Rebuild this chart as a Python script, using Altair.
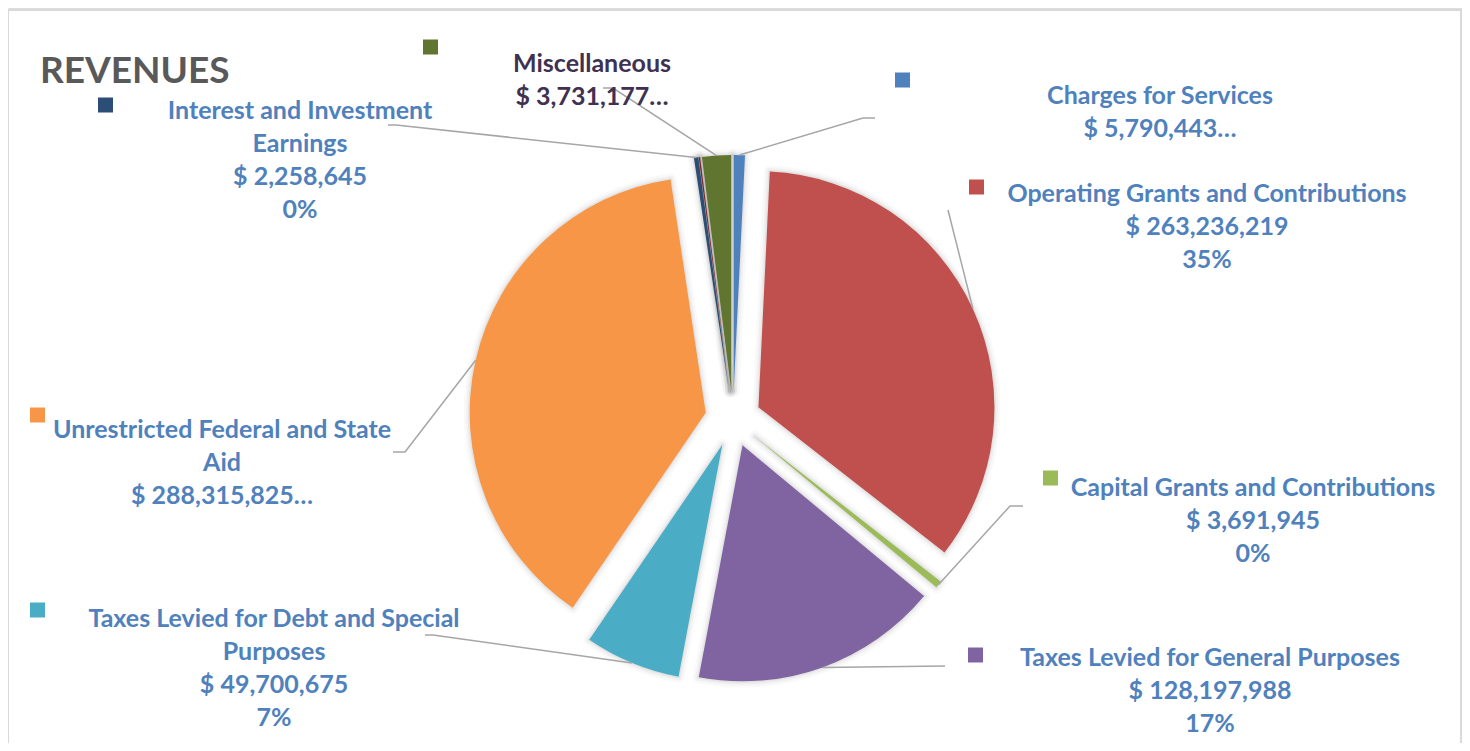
import altair as alt
import numpy as np
import pandas as pd

# ---------------- data ----------------
categories = [
    "Charges for Services",
    "Operating Grants and Contributions",
    "Capital Grants and Contributions",
    "Taxes Levied for General Purposes",
    "Taxes Levied for Debt and Special Purposes",
    "Unrestricted Federal and State Aid",
    "Interest and Investment Earnings",
    "Other",
    "Miscellaneous",
]
# slice sizes as they appear in the picture
values = [5790443, 263236219, 3691945, 128197988, 49700675, 288315825, 2258645, 750000, 15000000]
amount_text = ["$ 5,790,443…", "$ 263,236,219", "$ 3,691,945", "$ 128,197,988",
               "$ 49,700,675", "$ 288,315,825…", "$ 2,258,645", "", "$ 3,731,177…"]
percent_text = ["", "35%", "0%", "17%", "7%", "", "0%", "", ""]
name_lines = [
    ["Charges for Services"],
    ["Operating Grants and Contributions"],
    ["Capital Grants and Contributions"],
    ["Taxes Levied for General Purposes"],
    ["Taxes Levied for Debt and Special", "Purposes"],
    ["Unrestricted Federal and State", "Aid"],
    ["Interest and Investment", "Earnings"],
    [],
    ["Miscellaneous"],
]

# ---------------- styling / layout ----------------
slice_colors = ["#4F81BD", "#C0504D", "#9BBB59", "#8064A2", "#4BACC6",
                "#F79646", "#2C4D75", "#772C2A", "#5F7530"]
label_colors = ["#4F81BD"] * 8 + ["#403152"]
CX, CY, R, EXPLODE = 725, 411, 236, 28
FONT = "Lato"

# label anchor (center x, first baseline y) in chart pixels
label_pos = [(1152, 96), (1199, 194), (1245, 488), (1202, 658), (266, 619),
             (214, 430), (292, 111), None, (584, 64)]
square_pos = [(887, 72), (961, 179), (1035, 470), (960, 647), (22, 602),
              (22, 407), (90, 97), None, (415, 39)]
leader_pts = [  # (elbow, end) in chart pixels
    ((855, 110), (867, 110)),
    ((940, 202), (940, 202)),
    ((1002, 498), (1015, 498)),
    ((937, 658), (937, 658)),
    ((425, 627), (417, 627)),
    ((397, 444), (385, 444)),
    ((388, 117), (380, 117)),
    None,
    ((605, 80), (595, 80)),
]

# ---------------- pie table ----------------
pie_df = pd.DataFrame({
    "cat": categories,
    "value": values,
    "color": slice_colors,
    "order": list(range(len(categories))),
})

base = alt.Chart(pie_df).transform_joinaggregate(
    total="sum(value)"
).transform_window(
    cum="sum(value)", sort=[alt.SortField("order")], frame=[None, 0]
).transform_calculate(
    t1="2*PI*datum.cum/datum.total",
    t0="2*PI*(datum.cum-datum.value)/datum.total",
).transform_calculate(
    mid="(datum.t0+datum.t1)/2",
).transform_calculate(
    cx=f"{CX}+{EXPLODE}*sin(datum.mid)",
    cy=f"{CY}-{EXPLODE}*cos(datum.mid)",
)

enc = dict(
    x=alt.X("cx:Q", scale=None, axis=None),
    y=alt.Y("cy:Q", scale=None, axis=None),
    theta=alt.Theta("t0:Q", scale=None),
    theta2="t1:Q",
)

shadows = [
    base.mark_arc(radius=R, fill="#000000", fillOpacity=0.0, stroke="#000000",
                  strokeOpacity=op, strokeWidth=w, strokeJoin="round").encode(**enc)
    for w, op in [(12, 0.025), (7, 0.035), (3, 0.05)]
]
slices = base.mark_arc(radius=R).encode(color=alt.Color("color:N", scale=None), **enc)

# ---------------- leader lines ----------------
vals = np.array(values, dtype=float)
cum = np.cumsum(vals) / vals.sum()
mids = 2 * np.pi * (cum - vals / vals.sum() / 2)
rows = []
for i, pts in enumerate(leader_pts):
    if pts is None:
        continue
    m = mids[i]
    sx = CX + (EXPLODE + R) * np.sin(m)
    sy = CY - (EXPLODE + R) * np.cos(m)
    rows.append({"cat": categories[i], "seq": 0, "x": sx, "y": sy})
    rows.append({"cat": categories[i], "seq": 1, "x": pts[0][0], "y": pts[0][1]})
    rows.append({"cat": categories[i], "seq": 2, "x": pts[1][0], "y": pts[1][1]})
lead_df = pd.DataFrame(rows)
leaders = alt.Chart(lead_df).mark_line(color="#A6A6A6", strokeWidth=1.5).encode(
    x=alt.X("x:Q", scale=None, axis=None),
    y=alt.Y("y:Q", scale=None, axis=None),
    detail="cat:N",
    order="seq:O",
)

# ---------------- labels and keys ----------------
lab_rows, sq_rows = [], []
for i in range(len(categories)):
    if label_pos[i] is None:
        continue
    lines = name_lines[i] + [amount_text[i]] + ([percent_text[i]] if percent_text[i] else [])
    lab_rows.append({"text": "\n".join(lines), "x": label_pos[i][0], "y": label_pos[i][1],
                     "tc": label_colors[i]})
    sq_rows.append({"x": square_pos[i][0], "y": square_pos[i][1], "c": slice_colors[i]})
lab_df = pd.DataFrame(lab_rows)
sq_df = pd.DataFrame(sq_rows)

labels = alt.Chart(lab_df).mark_text(
    font=FONT, fontSize=25, fontWeight="bold", align="center",
    baseline="alphabetic", lineBreak="\n", lineHeight=33,
).encode(
    x=alt.X("x:Q", scale=None, axis=None),
    y=alt.Y("y:Q", scale=None, axis=None),
    text="text:N",
    color=alt.Color("tc:N", scale=None),
)
keys = alt.Chart(sq_df).mark_rect(width=15, height=15, align="left").encode(
    x=alt.X("x:Q", scale=None, axis=None),
    y=alt.Y("y:Q", scale=None, axis=None),
    color=alt.Color("c:N", scale=None),
)

title = alt.Chart(pd.DataFrame({"t": ["REVENUES"]})).mark_text(
    font=FONT, fontSize=37, fontWeight="bold", color="#595959",
    align="left", baseline="alphabetic",
).encode(x=alt.value(32), y=alt.value(75), text="t:N")

frame = alt.Chart(pd.DataFrame({"a": [0]})).mark_rect(
    fill="transparent", stroke="#D9D9D9", strokeWidth=2,
).encode(x=alt.value(0), x2=alt.value(1453), y=alt.value(2), y2=alt.value(800))

chart = alt.layer(frame, *shadows, slices, leaders, keys, labels, title).properties(
    width=1454, height=735, padding=0,
    autosize=alt.AutoSizeParams(type="none"),
).configure_view(stroke=None).configure(background="white")

chart.save("out.html", embed_options={"renderer": "svg", "actions": False})
